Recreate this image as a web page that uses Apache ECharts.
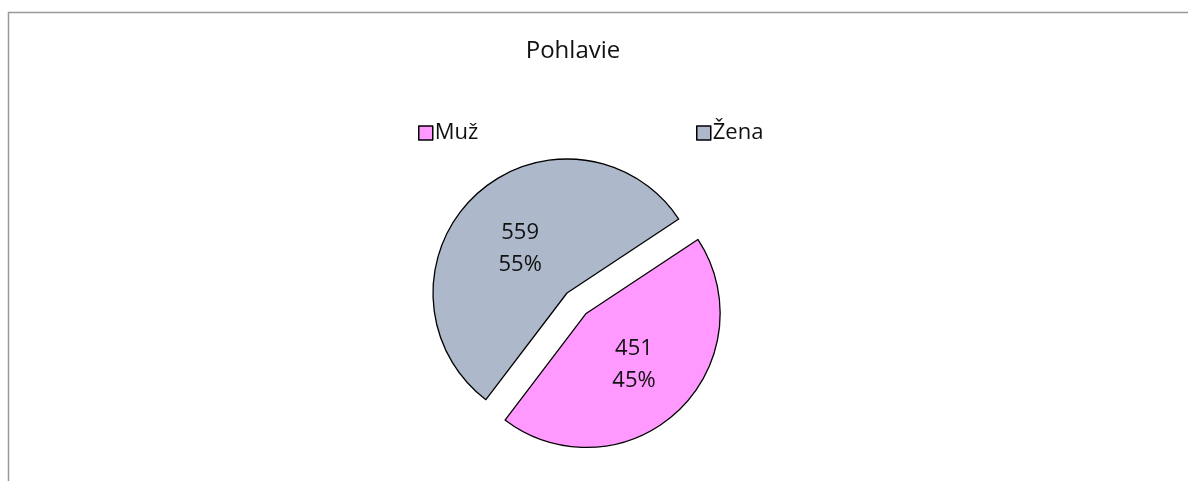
<!DOCTYPE html>
<html>
<head>
<meta charset="utf-8">
<script src="https://cdn.jsdelivr.net/npm/echarts@6/dist/echarts.min.js"></script>
<style>
  html, body { margin: 0; padding: 0; background: #fff; }
  #chart { width: 1188px; height: 481px; }
</style>
</head>
<body>
<div id="chart"></div>
<script>
// data
const categories = ['Muž', 'Žena']
const values = [451, 559]
const colors = ['#FF99FF', '#ADB9CA']
// grey label sits a bit lower in the original
const labelShift = [[0, 0], [1, 7]]

const font = 'Open Sans, sans-serif'

const chart = echarts.init(document.getElementById('chart'))

const pieData = categories.map((name, i) => ({
  name: name,
  value: values[i],
  selected: i === 0,
  itemStyle: { color: colors[i] },
  label: { offset: labelShift[i] }
}))

const legendStyle = {
  top: 117,
  itemWidth: 14,
  itemHeight: 14,
  itemGap: 5,
  icon: 'rect',
  selectedMode: false,
  itemStyle: { borderColor: '#000', borderWidth: 1.5 },
  textStyle: { fontFamily: font, fontSize: 22, color: '#111', padding: [0, 0, 0, -3] }
}

const option = {
  animation: false,
  title: {
    text: 'Pohlavie',
    left: 568,
    textAlign: 'center',
    top: 34,
    textStyle: { fontFamily: font, fontSize: 24, fontWeight: 'normal', color: '#111' }
  },
  legend: [
    Object.assign({ left: 413, data: [categories[0]] }, legendStyle),
    Object.assign({ left: 691, data: [categories[1]] }, legendStyle)
  ],
  graphic: [{
    type: 'rect',
    shape: { x: 8.5, y: 12.5, width: 1300, height: 600 },
    style: { fill: 'none', stroke: '#999', lineWidth: 1.5 },
    silent: true
  }],
  series: [{
    type: 'pie',
    center: [567, 293],
    radius: 134,
    startAngle: 33.5,
    clockwise: true,
    selectedMode: 'single',
    selectedOffset: 28,
    itemStyle: { borderColor: '#000', borderWidth: 1.3 },
    label: {
      show: true,
      position: 'inside',
      fontFamily: font,
      fontSize: 22,
      lineHeight: 32,
      color: '#111',
      formatter: p => p.value + '\n' + Math.round(p.percent) + '%'
    },
    labelLine: { show: false },
    emphasis: { disabled: true },
    data: pieData
  }]
}

chart.setOption(option)
</script>
</body>
</html>
